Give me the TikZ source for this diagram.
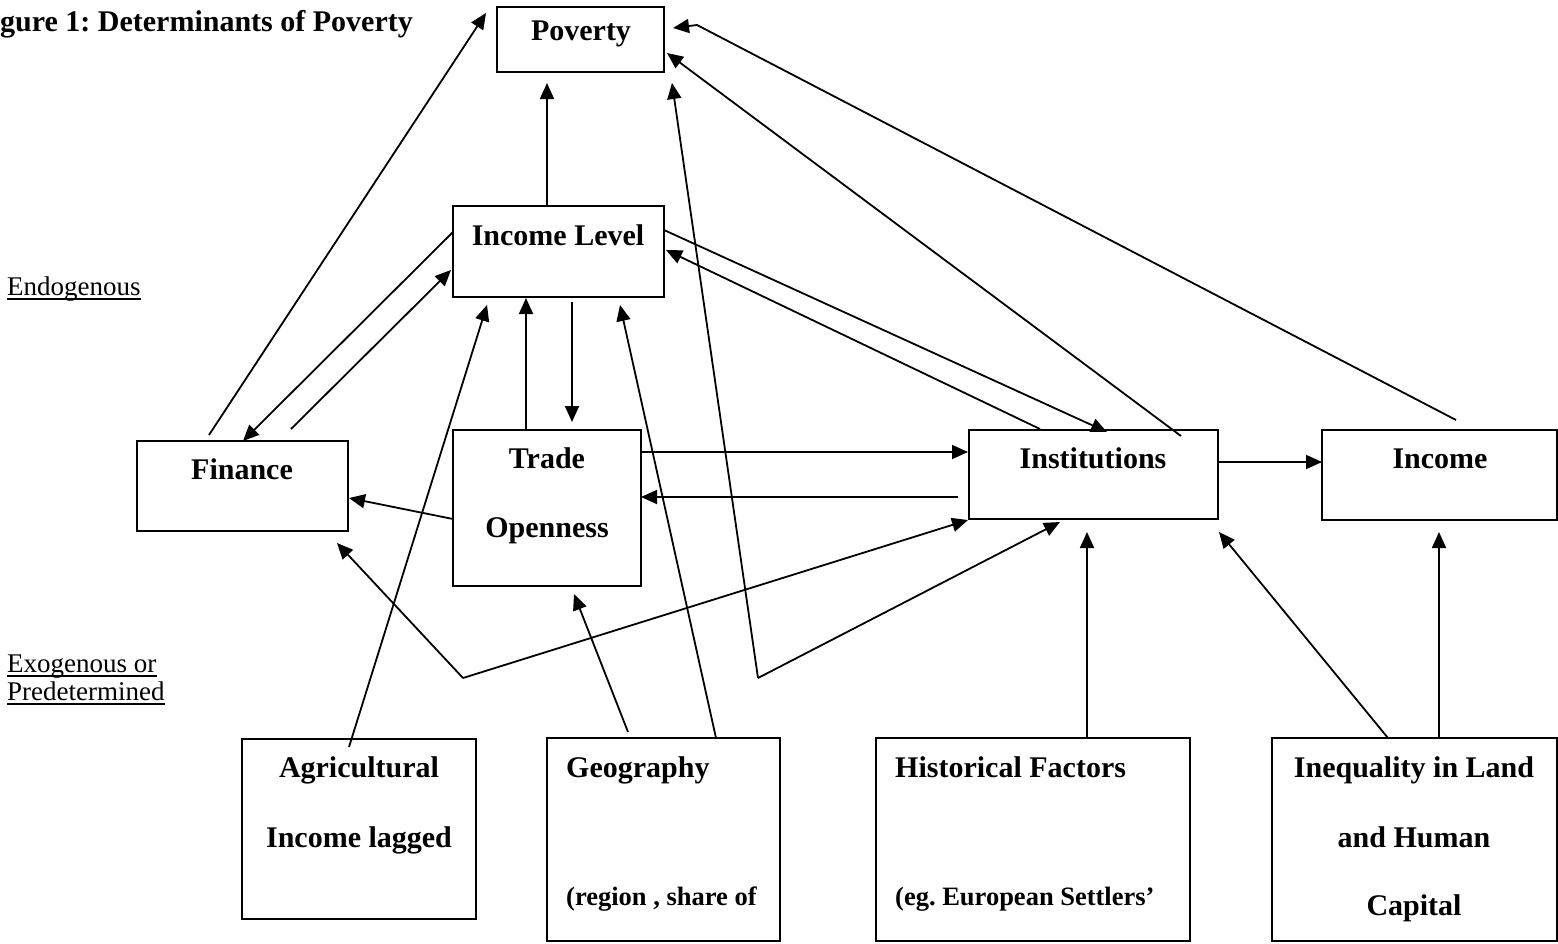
\documentclass[tikz,border=0pt]{standalone}
\usepackage{fontspec}
\setmainfont{Liberation Serif}
\usetikzlibrary{arrows.meta,calc}
\frenchspacing
\begin{document}
\begin{tikzpicture}[x=1pt,y=-1pt,
  box/.style={draw,line width=2.4pt,inner sep=0pt,outer sep=0pt},
  lbl/.style={font=\fontsize{30}{36}\selectfont\bfseries,inner sep=0pt,anchor=base},
  lbll/.style={lbl,anchor=base west},
  sml/.style={font=\fontsize{26.5}{32}\selectfont\bfseries,inner sep=0pt,anchor=base west},
  side/.style={font=\fontsize{27}{32}\selectfont,inner sep=0pt,anchor=base west},
  uline/.style={line width=1.5pt},
  conn/.style={line width=1.8pt,-{Triangle[length=16pt,width=14pt]}}]
\useasboundingbox (0,0) rectangle (1558,943);
\fill[white] (0,0) rectangle (1558,943);

% boxes
\node[box,minimum width=167pt,minimum height=65pt] (pov) at (580.5,39.5) {};
\node[box,minimum width=211pt,minimum height=91pt] (incl) at (558.5,251.5) {};
\node[box,minimum width=211pt,minimum height=90pt] (fin) at (242.5,486) {};
\node[box,minimum width=188pt,minimum height=156pt] (trade) at (547,508) {};
\node[box,minimum width=249pt,minimum height=89pt] (inst) at (1093.5,474.5) {};
\node[box,minimum width=235pt,minimum height=90pt] (inc) at (1439.5,475) {};
\node[box,minimum width=234pt,minimum height=180pt] (agr) at (359,829) {};
\node[box,minimum width=233pt,minimum height=203pt] (geo) at (663.5,839.5) {};
\node[box,minimum width=314pt,minimum height=203pt] (hist) at (1033,839.5) {};
\node[box,minimum width=285pt,minimum height=203pt] (ineq) at (1414.5,839.5) {};

% texts
\node[lbll] (title) at (0,31) {gure 1: Determinants of Poverty};
\node[lbl] (tpov) at (581,40) {Poverty};
\node[lbl] (tincl) at (558,245) {Income Level};
\node[lbl] (tfin) at (242,479) {Finance};
\node[lbl] (ttr1) at (547,468) {Trade};
\node[lbl] (ttr2) at (547,537) {Openness};
\node[lbl] (tinst) at (1093,468) {Institutions};
\node[lbl] (tinc) at (1440,468) {Income};
\node[lbl] (tagr1) at (359,777) {Agricultural};
\node[lbl] (tagr2) at (359,847) {Income lagged};
\node[lbll] (tgeo1) at (566,777) {Geography};
\node[sml] (tgeo2) at (566,905) {(region , share of};
\node[lbll] (thist1) at (895,777) {Historical Factors};
\node[sml] (thist2) at (895,905) {(eg. European Settlers'};
\node[lbl] (tineq1) at (1414,777) {Inequality in Land};
\node[lbl] (tineq2) at (1414,847) {and Human};
\node[lbl] (tineq3) at (1414,915) {Capital};

\node[side] (endo) at (7,295) {Endogenous};
\node[side] (exo1) at (7,672) {Exogenous or};
\node[side] (exo2) at (7,700) {Predetermined};
\draw[uline] ($(endo.base west)+(0,4)$) -- ($(endo.base east)+(0,4)$);
\draw[uline] ($(exo1.base west)+(0,4)$) -- ($(exo1.base east)+(0,4)$);
\draw[uline] ($(exo2.base west)+(0,4)$) -- ($(exo2.base east)+(0,4)$);

% bend points
\coordinate (v1) at (463,678);
\coordinate (v2) at (758,678);
\coordinate (k) at (697,25);

% connectors
\draw[conn] ($(fin.north west)+(72,-6)$) -- ($(pov.north west)+(-11,6)$);
\draw[conn] ($(incl.north west)+(94,0)$) -- ($(pov.south west)+(50,11)$);
\draw[conn] ($(incl.north west)+(0,26)$) -- ($(fin.north west)+(106,0)$);
\draw[conn] ($(fin.north west)+(154,-12)$) -- ($(incl.north west)+(-2,64)$);
\draw[conn] ($(trade.north west)+(73,0)$) -- ($(incl.south west)+(73,1)$);
\draw[conn] ($(incl.south west)+(119,5)$) -- ($(trade.north west)+(119,-8)$);
\draw[conn] ($(agr.north west)+(107,8)$) -- ($(incl.south west)+(34,8)$);
\draw[conn] ($(geo.north west)+(169,0)$) -- ($(incl.south west)+(167,8)$);
\draw[conn] ($(geo.north west)+(81,-6)$) -- ($(trade.south west)+(121,8)$);
\draw[conn] (v2) -- ($(pov.south east)+(8,11)$);
\draw[conn] (v2) -- ($(inst.south west)+(91,3)$);
\draw[conn] (v1) -- ($(fin.south east)+(-11,12)$);
\draw[conn] (v1) -- ($(inst.south west)+(-1,1)$);
\draw[conn] ($(trade.north east)+(0,22)$) -- ($(inst.north west)+(-1,22)$);
\draw[conn] ($(inst.north west)+(-11,67)$) -- ($(trade.north east)+(0,67)$);
\draw[conn] ($(trade.north west)+(0,89)$) -- ($(fin.north east)+(1,57)$);
\draw[conn] ($(inst.north east)+(0,32)$) -- ($(inc.north west)+(0,32)$);
\draw[conn] ($(hist.north west)+(211,0)$) -- ($(inst.south west)+(118,13)$);
\draw[conn] ($(ineq.north west)+(116,0)$) -- ($(inst.south east)+(1,13)$);
\draw[conn] ($(ineq.north west)+(167,0)$) -- ($(inc.south west)+(117,12)$);
\draw[conn] ($(inc.north west)+(134,-10)$) -- (k) -- ($(pov.north east)+(9,21)$);
\draw[conn] ($(inst.north west)+(212,6)$) -- ($(pov.north east)+(3,46)$);
\draw[conn] ($(incl.north east)+(0,24)$) -- ($(inst.north west)+(138,2)$);
\draw[conn] ($(inst.north west)+(71,-1)$) -- ($(incl.north east)+(2,44)$);
\end{tikzpicture}
\end{document}
